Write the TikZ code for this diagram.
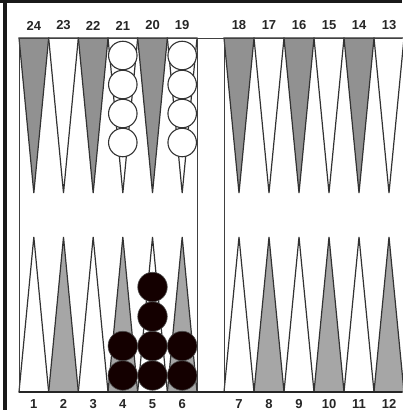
\documentclass[tikz,border=0pt]{standalone}
\usepackage{fontspec}
\setmainfont{Liberation Sans}
\begin{document}
\begin{tikzpicture}[x=1pt,y=-1pt,
  pt/.style={draw=black!80,line width=1.2pt,line join=miter},
  ptdark/.style={pt,fill=black!43},
  ptlight/.style={pt,fill=black!35},
  ptwhite/.style={pt,fill=white},
  wchk/.style={circle,draw=black!80,line width=1.1pt,fill=white,minimum size=28.5pt,inner sep=0pt},
  bchk/.style={circle,draw=black!70,line width=0.6pt,fill=black!92!red,minimum size=29.5pt,inner sep=0pt},
  lbl/.style={font=\fontsize{13}{13}\selectfont\bfseries,text=black!85,inner sep=0pt},
  frame/.style={draw=black!75,line width=1pt}]
\useasboundingbox (0,0) rectangle (402,410);
\fill[white] (0,0) rectangle (402,410);
% outer thick borders
\fill[black!90] (0,0) rectangle (402,3);
\fill[black!90] (3,0) rectangle (7,410);
% points and labels
\foreach \i in {0,...,5}{
  \pgfmathsetmacro{\xa}{19+29.67*\i}
  \pgfmathsetmacro{\xb}{224+30*\i}
  \pgfmathtruncatemacro{\nl}{24-\i}
  \pgfmathtruncatemacro{\nr}{18-\i}
  \pgfmathtruncatemacro{\ev}{mod(\i,2)}
  \ifnum\ev=0
    \draw[ptdark] (\xa,38) -- (\xa+29.67,38) -- (\xa+14.83,193) -- cycle;
    \draw[ptdark] (\xb,38) -- (\xb+30,38) -- (\xb+15,193) -- cycle;
    \draw[ptwhite] (\xa,392) -- (\xa+29.67,392) -- (\xa+14.83,237) -- cycle;
    \draw[ptwhite] (\xb,392) -- (\xb+30,392) -- (\xb+15,237) -- cycle;
  \else
    \draw[ptwhite] (\xa,38) -- (\xa+29.67,38) -- (\xa+14.83,193) -- cycle;
    \draw[ptwhite] (\xb,38) -- (\xb+30,38) -- (\xb+15,193) -- cycle;
    \draw[ptlight] (\xa,392) -- (\xa+29.67,392) -- (\xa+14.83,237) -- cycle;
    \draw[ptlight] (\xb,392) -- (\xb+30,392) -- (\xb+15,237) -- cycle;
  \fi
  \pgfmathtruncatemacro{\bl}{\i+1}
  \pgfmathtruncatemacro{\br}{\i+7}
  \node[lbl] (t\nl) at (\xa+14.83,25.5) {\nl};
  \node[lbl] (t\nr) at (\xb+15,25.5) {\nr};
  \node[lbl] (b\bl) at (\xa+14.83,404) {\bl};
  \node[lbl] (b\br) at (\xb+15,404) {\br};
}
% board lines
\draw[frame] (19,38) -- (402,38);
\draw[frame] (19,38) -- (19,392);
\draw[frame] (197,38) -- (197,392);
\draw[frame] (224,38) -- (224,392);
\draw[draw=black!85,line width=1.6pt] (19,392) -- (402,392);
% white checkers
\foreach \k/\y in {1/55.5,2/84.5,3/113.5,4/142.5}{
  \node[wchk] (w21\k) at (122.8,\y) {};
  \node[wchk] (w19\k) at (182.2,\y) {};
}
% black checkers
\foreach \k/\y in {1/375.5,2/346}{
  \node[bchk] (b4c\k) at (122.8,\y) {};
  \node[bchk] (b6c\k) at (182.2,\y) {};
}
\foreach \k/\y in {1/375.5,2/346,3/316.5,4/287}{
  \node[bchk] (b5c\k) at (152.5,\y) {};
}
\end{tikzpicture}
\end{document}
